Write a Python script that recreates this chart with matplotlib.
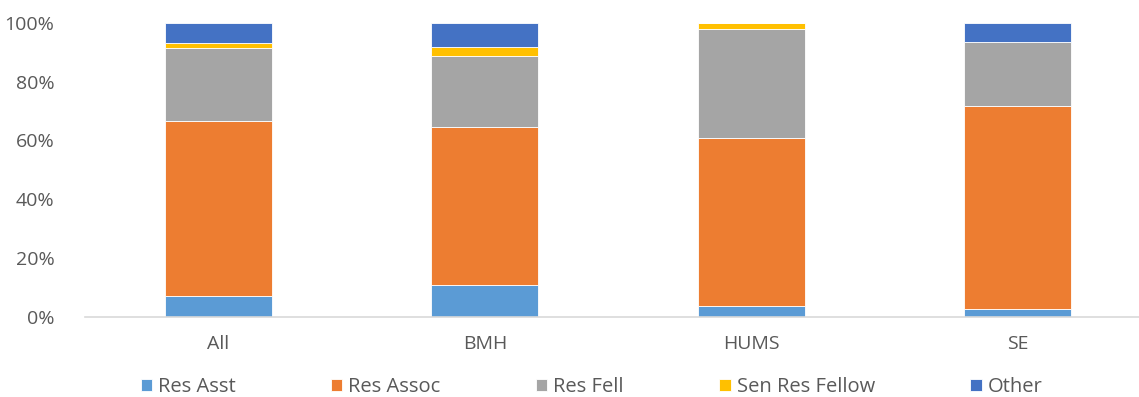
import matplotlib.pyplot as plt
import numpy as np
from matplotlib.ticker import PercentFormatter

# data (percent of each group)
groups = ["All", "BMH", "HUMS", "SE"]
res_asst = [6.9, 10.7, 3.7, 2.5]
res_assoc = [59.9, 53.8, 57.0, 69.4]
res_fell = [24.7, 24.3, 37.3, 21.7]
sen_res_fellow = [1.8, 2.9, 2.0, 0.0]
other = [6.7, 8.3, 0.0, 6.4]

series = [
    ("Res Asst", res_asst, "#5B9BD5"),
    ("Res Assoc", res_assoc, "#ED7D31"),
    ("Res Fell", res_fell, "#A5A5A5"),
    ("Sen Res Fellow", sen_res_fellow, "#FFC000"),
    ("Other", other, "#4472C4"),
]

plt.rcParams['font.family'] = ['Open Sans', 'DejaVu Sans']
txt = "#595959"

fig = plt.figure(figsize=(11.39, 3.97), dpi=100)
ax = fig.add_axes([85 / 1139, 80.3 / 397, 1066 / 1139, 293.7 / 397])

x = np.arange(len(groups))
bottom = np.zeros(len(groups))
for name, vals, col in series:
    vals = np.array(vals)
    ax.bar(x, vals, 0.4, bottom=bottom, color=col, label=name,
           edgecolor="white", linewidth=0.6)
    bottom += vals

ax.set_xlim(-0.5, 3.5)
ax.set_ylim(0, 100)
ax.set_yticks(range(0, 101, 20))
ax.yaxis.set_major_formatter(PercentFormatter(decimals=0))
ax.set_xticks(x)
ax.set_xticklabels(groups)

for s in ["top", "right", "left"]:
    ax.spines[s].set_visible(False)
ax.spines["bottom"].set_color("#D9D9D9")
ax.spines["bottom"].set_linewidth(1.2)
ax.tick_params(axis="both", length=0, labelsize=14, colors=txt)
ax.tick_params(axis="x", pad=13)
ax.tick_params(axis="y", pad=22)

leg = fig.legend(loc="center", bbox_to_anchor=(0.5 + 22 / 1139, 10 / 397), ncol=5,
                 frameon=False, fontsize=14.5, handlelength=0.55, handleheight=0.55,
                 handletextpad=0.3, columnspacing=4.75, labelcolor=txt, borderpad=0.1)

fig.savefig("out.png", dpi=100)
